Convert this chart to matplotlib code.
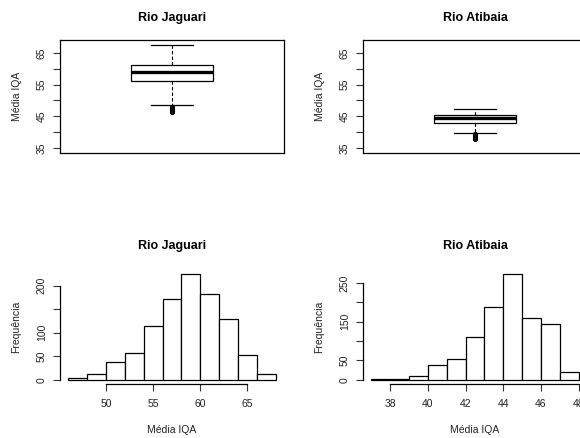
import numpy as np
import matplotlib
matplotlib.use("Agg")
from matplotlib import pyplot as plt

# boxplot summaries
jag_box = dict(whislo=48.6, q1=56.3, med=59.1, q3=61.3, whishi=67.6,
               fliers=[48.0, 47.6, 47.3, 47.0, 46.7, 46.4])
ati_box = dict(whislo=39.8, q1=43.0, med=44.4, q3=45.3, whishi=47.4,
               fliers=[39.5, 39.2, 38.9, 38.6, 38.2, 37.8])

# histograms
jag_edges = [46, 48, 50, 52, 54, 56, 58, 60, 62, 64, 66, 68]
jag_counts = [4, 13, 38, 56, 115, 172, 224, 183, 130, 53, 13]
ati_edges = [37, 38, 39, 40, 41, 42, 43, 44, 45, 46, 47, 48]
ati_counts = [2, 2, 11, 37, 55, 111, 188, 273, 161, 144, 19]

box_yticks = [35, 40, 45, 50, 55, 60, 65]
box_ylabels = ["35", "", "45", "", "55", "", "65"]
jag_yticks = [0, 50, 100, 150, 200]
jag_ylabels = ["0", "50", "100", "", "200"]
ati_yticks = [0, 50, 100, 150, 200, 250]
ati_ylabels = ["0", "50", "", "150", "", "250"]
jag_xticks = [50, 55, 60, 65]
ati_xticks = [38, 40, 42, 44, 46, 48]

TXT = "#222222"
plt.rcParams['font.family'] = ['Liberation Sans', 'DejaVu Sans']

fig = plt.figure(figsize=(5.8, 4.38), dpi=100)
W, H = 580, 438


def add_ax(x0, y0, w, h):
    return fig.add_axes([x0 / W, 1 - (y0 + h) / H, w / W, h / H])


def style_ticks(ax):
    ax.tick_params(axis='both', length=5, width=0.8, colors='#333333',
                   labelsize=7.5, labelcolor=TXT)
    ax.tick_params(axis='y', pad=4.5)
    ax.tick_params(axis='x', pad=6)
    for lab in ax.get_yticklabels():
        lab.set_rotation(90)
        lab.set_va('center')


def boxpanel(ax, stats, title):
    ax.bxp([stats], positions=[1], widths=0.4, capwidths=0.2, patch_artist=True,
           boxprops=dict(facecolor='white', edgecolor='black', linewidth=0.9),
           medianprops=dict(color='black', linewidth=2.4),
           whiskerprops=dict(color='black', linewidth=0.8, linestyle=(0, (3, 2))),
           capprops=dict(color='black', linewidth=0.9),
           flierprops=dict(marker='o', markersize=3, markerfacecolor='none',
                           markeredgecolor='black', markeredgewidth=0.7))
    ax.set_xlim(0.46, 1.54)
    ax.set_ylim(33.4, 69.1)
    ax.set_xticks([])
    ax.set_yticks(box_yticks)
    ax.set_yticklabels(box_ylabels)
    for s in ax.spines.values():
        s.set_linewidth(0.9)
    style_ticks(ax)
    ax.set_ylabel("Média IQA", fontsize=7.5, color=TXT, labelpad=11)
    ax.set_title(title, fontsize=9, fontweight='bold', pad=14)


def histpanel(ax, edges, counts, xticks, yticks, ylabels, title):
    edges = np.asarray(edges, dtype=float)
    ax.bar(edges[:-1], counts, width=np.diff(edges), align='edge',
           facecolor='white', edgecolor='black', linewidth=0.9)
    span = edges[-1] - edges[0]
    ax.set_xlim(edges[0] - 0.04 * span, edges[-1] + 0.04 * span)
    top = max(counts)
    ax.set_ylim(-0.04 * top, 1.04 * top)
    ax.set_xticks(xticks)
    ax.set_yticks(yticks)
    ax.set_yticklabels(ylabels)
    ax.spines['top'].set_visible(False)
    ax.spines['right'].set_visible(False)
    ax.spines['left'].set_bounds(yticks[0], yticks[-1])
    ax.spines['bottom'].set_bounds(xticks[0], xticks[-1])
    for s in ax.spines.values():
        s.set_linewidth(0.9)
    style_ticks(ax)
    ax.set_ylabel("Frequência", fontsize=7.5, color=TXT, labelpad=11)
    ax.set_xlabel("Média IQA", fontsize=7.5, color=TXT, labelpad=11)
    ax.set_title(title, fontsize=9, fontweight='bold', pad=15)


ax1 = add_ax(60, 40, 224, 113)
boxpanel(ax1, jag_box, "Rio Jaguari")
ax2 = add_ax(363, 40, 224, 113)
boxpanel(ax2, ati_box, "Rio Atibaia")

ax3 = add_ax(60, 270, 224, 114)
histpanel(ax3, jag_edges, jag_counts, jag_xticks, jag_yticks, jag_ylabels, "Rio Jaguari")
ax4 = add_ax(363, 270, 224, 114)
histpanel(ax4, ati_edges, ati_counts, ati_xticks, ati_yticks, ati_ylabels, "Rio Atibaia")

fig.savefig("out.png", dpi=100, facecolor='white')
